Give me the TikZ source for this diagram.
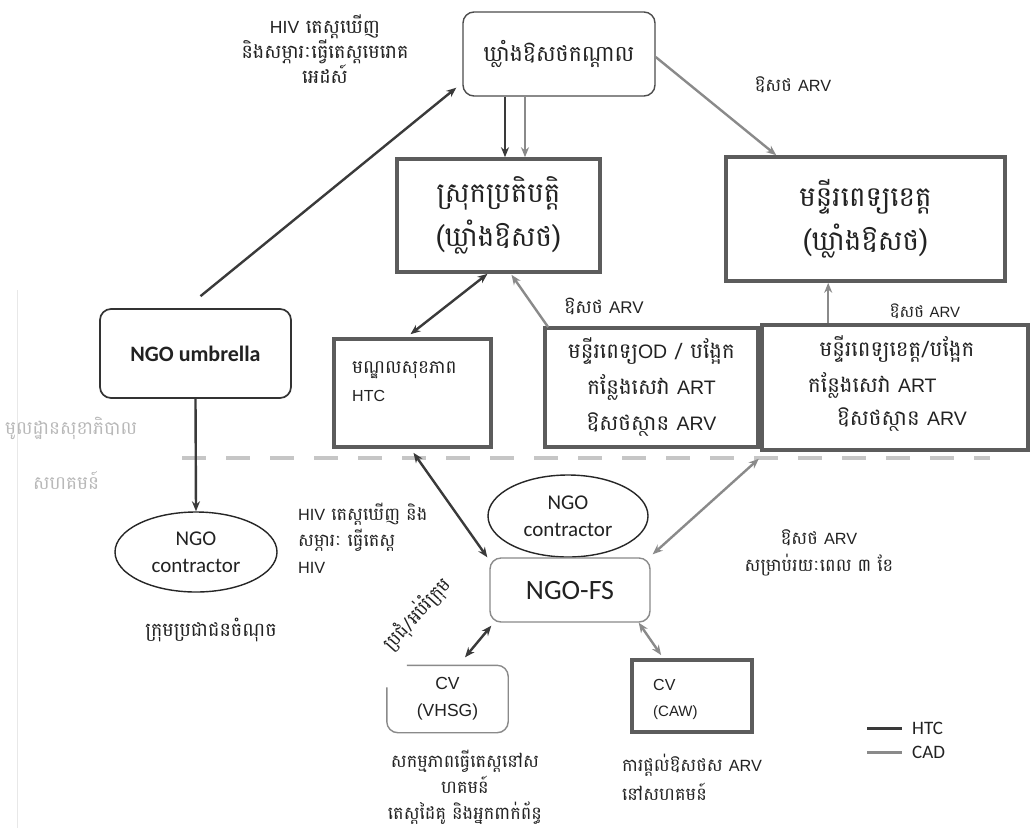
\documentclass[tikz,border=0pt]{standalone}
\usepackage{fontspec}
\setmainfont{Liberation Sans}
\newfontfamily\kh[Script=Khmer,Scale=1.42]{Battambang}
\newfontfamily\latfont[Scale=1.3]{Liberation Sans}
\newfontfamily\calfont{Carlito}
\newcommand\lat[1]{{\latfont #1}}
\usetikzlibrary{arrows.meta,shapes.geometric,calc}
\definecolor{darkln}{HTML}{3A3A3A}
\definecolor{greyln}{HTML}{8A8A8A}
\definecolor{boxln}{HTML}{5C5C5C}
\definecolor{txt}{HTML}{222222}
\begin{document}
\begin{tikzpicture}[x=1pt,y=-1pt,
  every node/.style={text=txt,inner sep=0pt},
  thickbox/.style={draw=boxln,line width=3.6pt,rectangle,align=center},
  roundbox/.style={draw=#1,rounded corners=11pt,line width=1.4pt,rectangle,align=center},
  oval/.style={draw=black!85,line width=1.4pt,ellipse,align=center},
  tip/.style={-{Stealth[length=10pt,width=8pt]}},
  dk/.style={draw=darkln,line width=2.4pt,tip},
  gy/.style={draw=greyln,line width=2.4pt,tip},
  dkb/.style={draw=darkln,line width=2.4pt,{Stealth[length=10pt,width=8pt]}-{Stealth[length=10pt,width=8pt]}},
  gyb/.style={draw=greyln,line width=2.4pt,{Stealth[length=10pt,width=8pt]}-{Stealth[length=10pt,width=8pt]}},
  khbig/.style={font=\kh\fontsize{19.5}{44}\selectfont},
  khmid/.style={font=\kh\fontsize{15}{36}\selectfont},
  ngo/.style={font=\calfont\fontsize{21}{27}\selectfont},
  lbl/.style={align=center}
]
\useasboundingbox (0,0) rectangle (1035,828);
\fill[white] (0,0) rectangle (1035,828);
\draw[gray!18,line width=0.8pt] (17,290) -- (17,828);

% boxes
\node[roundbox=black!70,minimum width=192pt,minimum height=84pt,font=\kh\fontsize{15.5}{20}\selectfont] (central) at (559,54) {ឃ្លាំងឱសថកណ្តាល};
\node[thickbox,minimum width=203pt,minimum height=113pt,khbig] (srok) at (498.5,215.5) {ស្រុកប្រតិបត្តិ\\(ឃ្លាំងឱសថ)};
\node[thickbox,minimum width=279pt,minimum height=124pt,khbig] (khet) at (865.5,219) {មន្ទីរពេទ្យខេត្ត\\(ឃ្លាំងឱសថ)};
\node[roundbox=black!80,line width=1.7pt,minimum width=191pt,minimum height=89pt,font=\calfont\bfseries\fontsize{22}{26}\selectfont] (umb) at (195.5,353.5) {NGO umbrella};
\node[thickbox,minimum width=157pt,minimum height=108pt] (htc) at (412.5,393) {};
\node[anchor=west,font=\kh\fontsize{13}{20}\selectfont] (htct) at (352,370) {មណ្ឌលសុខភាព};
\node[anchor=west,font=\fontsize{16}{18}\selectfont] (htcl) at (352,396) {HTC};
\node[thickbox,minimum width=213pt,minimum height=119pt,khmid] (od) at (651.5,387.5) {មន្ទីរពេទ្យ\lat{OD} / បង្អែក\\កន្លែងសេវា \lat{ART}\\ឱសថស្ថាន \lat{ARV}};
\node[thickbox,minimum width=266pt,minimum height=125pt] (khet2) at (895,387.5) {};
\node[khmid] (k2a) at (897,349) {មន្ទីរពេទ្យខេត្ត/បង្អែក};
\node[khmid,anchor=west] (k2b) at (808,385) {កន្លែងសេវា \lat{ART}};
\node[khmid,anchor=west] (k2c) at (837,420) {ឱសថស្ថាន \lat{ARV}};
\node[oval,minimum width=162pt,minimum height=80pt,ngo] (con1) at (196,552) {NGO\\contractor};
\node[oval,minimum width=160pt,minimum height=82pt,ngo] (con2) at (568,516) {NGO\\contractor};
\node[roundbox=greyln,minimum width=160pt,minimum height=64pt,font=\calfont\fontsize{28}{30}\selectfont] (fs) at (570,590) {NGO-FS};
\node[minimum width=121pt,minimum height=67pt,align=center,font=\fontsize{17.5}{27}\selectfont] (vhsg) at (447.5,699) {CV\\(VHSG)};
\draw[draw=greyln,line width=1.4pt,rounded corners=11pt] ($(vhsg.north west)+(20,0)$) -- (vhsg.north east) -- (vhsg.south east) -- (vhsg.south west) -- ($(vhsg.north west)+(0,22)$);
\node[draw=boxln,line width=3.8pt,rectangle,minimum width=120pt,minimum height=72pt] (caw) at (692,696) {};
\node[anchor=west,font=\fontsize{16}{18}\selectfont] (cawa) at (653,685) {CV};
\node[anchor=west,font=\fontsize{15}{18}\selectfont] (cawb) at (653,713) {(CAW)};

% separator
\draw[gray!45,line width=3.5pt,dash pattern=on 24pt off 20pt] (182,458) -- (990,458);

% labels
\node[lbl,font=\kh\fontsize{13.5}{23.5}\selectfont] (l1) at (325,49) {\lat{HIV} តេស្តឃើញ\\និងសម្ភារៈធ្វើតេស្តមេរោគ\\អេដស៍};
\node[font=\kh\fontsize{12.5}{20}\selectfont] (l2) at (793,85) {ឱសថ \lat{ARV}};
\node[font=\kh\fontsize{13}{20}\selectfont] (l3) at (604,306) {ឱសថ \lat{ARV}};
\node[font=\kh\fontsize{11.5}{20}\selectfont] (l4) at (925,311) {ឱសថ \lat{ARV}};
\node[anchor=west,text=gray!55,font=\kh\fontsize{13}{20}\selectfont] (g1) at (5,428) {មូលដ្ឋានសុខាភិបាល};
\node[anchor=west,text=gray!55,font=\kh\fontsize{13}{20}\selectfont] (g2) at (33,480) {សហគមន៍};
\node[anchor=west,align=left,font=\kh\fontsize{12.5}{26.5}\selectfont] (l5) at (298,538) {\lat{HIV} តេស្តឃើញ និង\\សម្ភារៈ ធ្វើតេស្ត\\\lat{HIV}};
\node[font=\kh\fontsize{13.5}{20}\selectfont] (l6) at (211,630) {ក្រុមប្រជាជនចំណុច};
\node[lbl,font=\kh\fontsize{12.5}{27}\selectfont] (l7) at (819,553) {ឱសថ \lat{ARV}\\សម្រាប់រយៈពេល ៣ ខែ};
\node[font=\kh\fontsize{13}{20}\selectfont,rotate=48] (l8) at (417,614) {ប្រជុំ/អប់រំក្រុម};
\node[lbl,font=\kh\fontsize{12.5}{26}\selectfont] (l9) at (465,787) {សកម្មភាពធ្វើតេស្តនៅស\\ហគមន៍\\តេស្តដៃគូ និងអ្នកពាក់ព័ន្ធ};
\node[anchor=west,align=left,font=\kh\fontsize{12.5}{29}\selectfont] (l10) at (622,777) {ការផ្តល់ឱសថស \lat{ARV}\\នៅសហគមន៍};

% connectors
\draw[dk] ($(umb.north)+(5,-12)$) -- ($(central.south west)+(-6,-9)$);
\draw[dk] ($(central.south)+(-54,0)$) -- ($(srok.north)+(6.5,0)$);
\draw[gy] ($(central.south)+(-34,0)$) -- ($(srok.north)+(26.5,0)$);
\draw[gy] ($(central.east)+(0,3)$) -- ($(khet.north west)+(52,0)$);
\draw[dkb] ($(htc.north)+(-2,-3)$) -- ($(srok.south)+(-11,0)$);
\draw[gy] ($(od.north west)+(5,1)$) -- ($(srok.south)+(13,1)$);
\draw[gy] ($(khet2.north west)+(68,0)$) -- ($(khet.south west)+(104,0)$);
\draw[dk] (umb.south) -- (con1.north);
\draw[dkb] ($(htc.south)+(1,4)$) -- ($(fs.north west)+(-2,0)$);
\draw[gyb] ($(fs.north east)+(2,-3)$) -- ($(od.south east)+(-1,10)$);
\draw[dkb] ($(fs.south west)+(2,3)$) -- ($(vhsg.north)+(17.5,-8)$);
\draw[gyb] ($(fs.south east)+(-12,0)$) -- ($(caw.north west)+(31,-3)$);

% legend
\coordinate (h1) at (867,728);
\coordinate (h2) at (902,728);
\coordinate (c1) at (867,752);
\coordinate (c2) at (902,752);
\draw[darkln,line width=3pt] (h1) -- (h2);
\draw[greyln,line width=3pt] (c1) -- (c2);
\node[anchor=west,font=\calfont\fontsize{19}{20}\selectfont] (lh) at (912,728) {HTC};
\node[anchor=west,font=\calfont\fontsize{19}{20}\selectfont] (lc) at (912,752) {CAD};
\end{tikzpicture}
\end{document}
